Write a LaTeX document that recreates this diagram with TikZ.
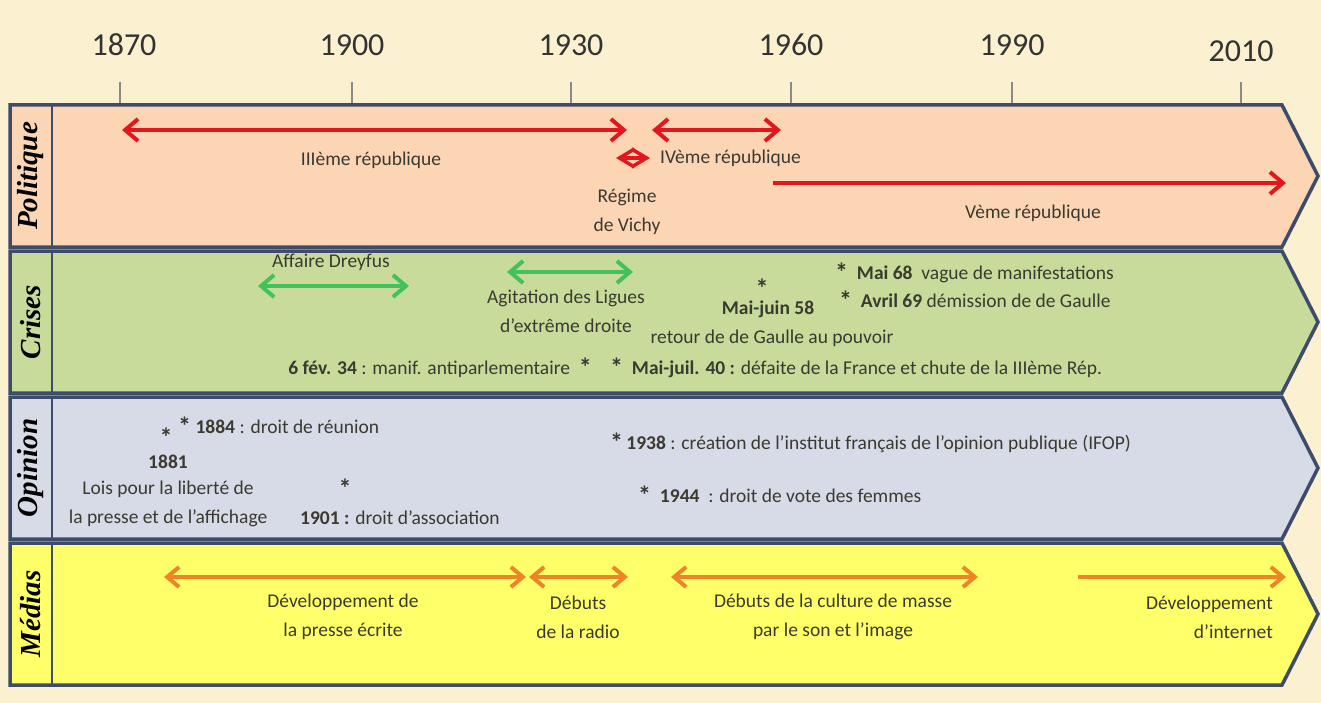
\documentclass[tikz,border=0pt]{standalone}
\usepackage{fontspec}
\setmainfont{Carlito}
\newfontfamily\catfont{Liberation Serif}
\usetikzlibrary{arrows.meta}
\definecolor{bg}{HTML}{FBF1D0}
\definecolor{edge}{HTML}{3E4C6C}
\definecolor{pol}{HTML}{FCD6B4}
\definecolor{cri}{HTML}{C8DB9A}
\definecolor{opi}{HTML}{D7DAE7}
\definecolor{med}{HTML}{FFFF6A}
\definecolor{redA}{HTML}{E3161B}
\definecolor{grnA}{HTML}{45C159}
\definecolor{orgA}{HTML}{EE8426}
\definecolor{ink}{HTML}{3A3A30}
\definecolor{tickc}{HTML}{8A8A8A}
\newcommand\starB{\raisebox{-2pt}{\bfseries\fontsize{26}{26}\selectfont *}}
\begin{document}
\begin{tikzpicture}[x=1pt,y=-1pt,
  band/.style={draw=edge, line width=3.5pt, line join=miter},
  sep/.style={draw=edge, line width=1.5pt},
  lbl/.style={font=\fontsize{19.5}{29}\selectfont, text=ink, inner sep=0pt, align=center},
  yearlbl/.style={font=\fontsize{32}{34}\selectfont, text=black!80, inner sep=0pt},
  catlbl/.style={rotate=90, font=\fontsize{29}{30}\selectfont\catfont\bfseries\itshape, text=black, inner sep=0pt},
  tickln/.style={draw=tickc, line width=1.2pt},
  redarr/.style={draw=redA, line width=4pt, >={Straight Barb[length=13pt,width=22pt]}},
  grnarr/.style={draw=grnA, line width=4pt, >={Straight Barb[length=13pt,width=22pt]}},
  orgarr/.style={draw=orgA, line width=4pt, >={Straight Barb[length=12pt,width=20pt]}}
]
\useasboundingbox (0,0) rectangle (1321,703);
\fill[bg] (0,0) rectangle (1321,703);

% ticks and years
\foreach \xx/\yr/\yy/\dx in {120/1870/45/4, 352/1900/45/0, 571/1930/45/0, 791/1960/45/0, 1012/1990/45/0, 1241/2010/51/0}{
  \draw[tickln] (\xx,82) -- (\xx,104);
  \node[yearlbl] (y\yr) at (\xx+\dx,\yy) {\yr};
}

% bands
\filldraw[band, fill=pol] (10,105) -- (1282,105) -- (1318,176) -- (1282,247) -- (10,247) -- cycle;
\filldraw[band, fill=cri] (10,251) -- (1282,251) -- (1318,322) -- (1282,393) -- (10,393) -- cycle;
\filldraw[band, fill=opi] (10,397) -- (1282,397) -- (1318,468) -- (1282,539) -- (10,539) -- cycle;
\filldraw[band, fill=med] (10,543) -- (1282,543) -- (1318,614) -- (1282,685) -- (10,685) -- cycle;
\foreach \a/\b in {105/247, 251/393, 397/539, 543/685}{
  \draw[sep] (52,\a) -- (52,\b);
}

% category labels
\node[catlbl] (cpol) at (31,176) {Politique};
\node[catlbl] (ccri) at (31,322) {Crises};
\node[catlbl] (copi) at (31,468) {Opinion};
\node[catlbl] (cmed) at (31,614) {Médias};

% ---- Politique
\coordinate (p3a) at (122,130); \coordinate (p3b) at (627,130);
\coordinate (p4a) at (652,130); \coordinate (p4b) at (781,130);
\coordinate (pva) at (616,158); \coordinate (pvb) at (650,158);
\coordinate (p5a) at (773,183); \coordinate (p5b) at (1286,183);
\draw[redarr, <->] (p3a) -- (p3b);
\draw[redarr, <->] (p4a) -- (p4b);
\draw[redarr, line width=3.5pt, >={Straight Barb[length=15pt,width=18pt]}, <->] (pva) -- (pvb);
\draw[redarr, ->] (p5a) -- (p5b);
\node[lbl] (t3) at (371,160) {IIIème république};
\node[lbl, anchor=west] (t4) at (660,158) {IVème république};
\node[lbl] (tvichy) at (627,212) {Régime\\de Vichy};
\node[lbl] (t5) at (1033,213) {Vème république};

% ---- Crises
\coordinate (cda) at (258,286); \coordinate (cdb) at (409,286);
\coordinate (cla) at (507,272); \coordinate (clb) at (633,272);
\draw[grnarr, <->] (cda) -- (cdb);
\draw[grnarr, <->] (cla) -- (clb);
\node[lbl] (tdrey) at (331,262) {Affaire Dreyfus};
\node[lbl] (tligue) at (566,311) {Agitation des Ligues\\d’extrême droite};
\node[lbl, text height=9pt, text depth=0pt] (s58) at (762,291) {\starB};
\node[lbl] (t58) at (768,309) {\bfseries Mai-juin 58};
\node[lbl] (t58b) at (772,338) {retour de de Gaulle au pouvoir};
\node[lbl, anchor=west] (t68) at (835,273) {\starB\ \ \textbf{Mai 68} \ vague de manifestations};
\node[lbl, anchor=west] (t69) at (839,300) {\starB\ \ \textbf{Avril 69} démission de de Gaulle};
\node[lbl, anchor=east] (t34) at (592,368) {\textbf{6 fév. 34} : manif. antiparlementaire \ \starB};
\node[lbl, anchor=west] (t40) at (610,368) {\starB\ \ \textbf{Mai-juil. 40 :} défaite de la France et chute de la IIIème Rép.};

% ---- Opinion
\node[lbl] (s81) at (166,437) {\starB};
\node[lbl, anchor=west] (t84) at (178,426) {\starB\ \textbf{1884} : droit de réunion};
\node[lbl] (t81) at (168,462) {\bfseries 1881};
\node[lbl] (t81b) at (168,504) {Lois pour la liberté de\\la presse et de l’affichage};
\node[lbl] (s01) at (345,488) {\starB};
\node[lbl, anchor=west] (t01) at (300,518) {\textbf{1901 :} droit d’association};
\node[lbl, anchor=west] (t38) at (610,443) {\starB\,\textbf{1938} : création de l’institut français de l’opinion publique (IFOP)};
\node[lbl, anchor=west] (t44) at (638,495) {\starB\ \ \textbf{1944} \ : droit de vote des femmes};

% ---- Médias
\coordinate (m1a) at (164,577); \coordinate (m1b) at (526,577);
\coordinate (m2a) at (529,577); \coordinate (m2b) at (628,577);
\coordinate (m3a) at (671,577); \coordinate (m3b) at (978,577);
\coordinate (m4a) at (1078,577); \coordinate (m4b) at (1286,577);
\draw[orgarr, <->] (m1a) -- (m1b);
\draw[orgarr, <->] (m2a) -- (m2b);
\draw[orgarr, <->] (m3a) -- (m3b);
\draw[orgarr, ->] (m4a) -- (m4b);
\node[lbl] (tm1) at (343,617) {Développement de\\la presse écrite};
\node[lbl] (tm2) at (578,617) {Débuts\\de la radio};
\node[lbl] (tm3) at (833,617) {Débuts de la culture de masse\\par le son et l’image};
\node[lbl, align=right, anchor=east] (tm4) at (1273,617) {Développement\\d’internet};
\end{tikzpicture}
\end{document}
